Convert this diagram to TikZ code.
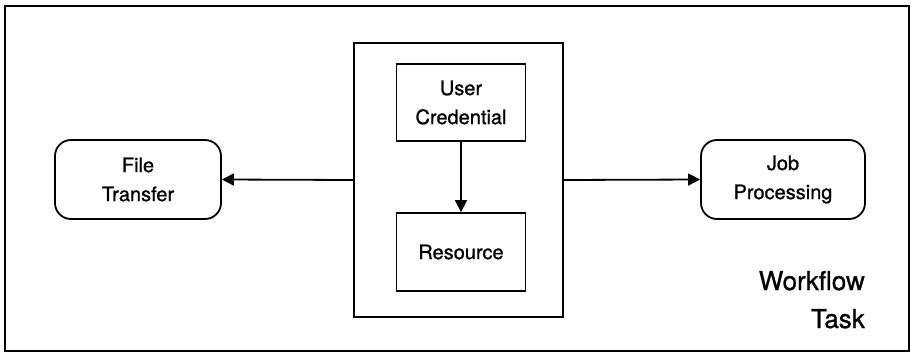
\documentclass[tikz,border=0pt]{standalone}
\usepackage{fontspec}
\setmainfont[FakeBold=1]{TeX Gyre Heros}
\usetikzlibrary{arrows.meta}

\tikzset{
  line/.style={line width=1.8pt},
  procbox/.style={line, draw, rounded corners=16pt, minimum height=79pt,
    align=center, inner sep=0pt, font=\fontsize{20}{29}\selectfont},
  partbox/.style={line, draw, minimum height=77pt, minimum width=129pt,
    align=center, inner sep=0pt, font=\fontsize{20}{29}\selectfont},
  groupbox/.style={line, draw, minimum width=209pt, minimum height=274pt, inner sep=0pt},
  flow/.style={line, -{Triangle[length=12pt,width=12pt]}},
  caption/.style={inner sep=0pt, font=\fontsize{26}{38}\selectfont}
}

\begin{document}
\begin{tikzpicture}[x=1pt,y=-1pt]
  \useasboundingbox (0,0) rectangle (911,353);

  % outer frame of the workflow task
  \draw[line width=1.6pt] (5,6) rectangle (909,351);

  % central group holding the credential and the resource
  \node[groupbox] (grp) at (458.5,180) {};
  \node[partbox] (uc) at (461,102.5) {User\\Credential};
  \node[partbox, minimum height=78pt] (res) at (461,252) {Resource};

  % side processes
  \node[procbox, minimum width=166pt] (ft) at (138,179.5) {File\\Transfer};
  \node[procbox, minimum width=164pt] (jp) at (783,179.5) {Job\\Processing};

  % connectors
  \draw[flow] (uc.south) -- (res.north);
  \draw[flow] (grp.west) -- (ft.east);
  \draw[flow] (grp.east) -- (jp.west);

  % caption
  \node[caption, anchor=base east] (wf1) at (865,290) {Workflow};
  \node[caption, anchor=base east] (wf2) at (865,328) {Task};
\end{tikzpicture}
\end{document}
